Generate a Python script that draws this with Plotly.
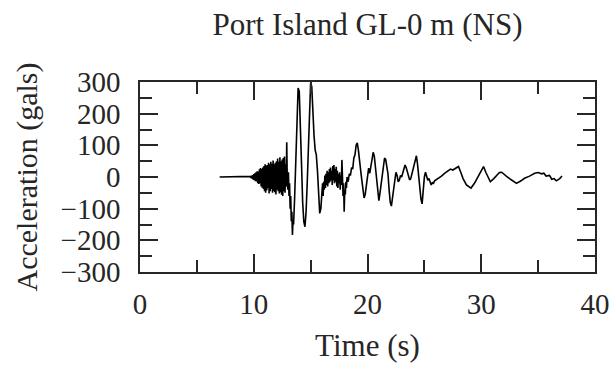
import plotly.graph_objects as go

time_pre = [7.0, 9.6]
accel_pre = [0, 0]

time_onset = [9.70, 9.75, 9.80, 9.85, 9.90, 9.95, 10.00, 10.05, 10.10, 10.15, 10.20, 10.25,
              10.30, 10.35, 10.40, 10.45, 10.50, 10.55, 10.60, 10.65, 10.70, 10.75, 10.80,
              10.85, 10.90, 10.95, 11.00, 11.05, 11.10, 11.15, 11.20, 11.25, 11.30, 11.35,
              11.40, 11.45, 11.50, 11.55, 11.60, 11.65, 11.70, 11.75, 11.80, 11.85, 11.90,
              11.95, 12.00, 12.05, 12.10, 12.15, 12.20, 12.25, 12.30, 12.35, 12.40, 12.45,
              12.50, 12.55, 12.60, 12.65, 12.70, 12.75, 12.80, 12.85, 12.90, 12.95]
accel_onset = [2, -3, 4, -5, 6, -8, 9, -10, 12, -13, 15, -14,
               18, -20, 17, -22, 24, -20, 28, -30, 25, -34, 30,
               -38, 35, -45, 40, -50, 36, -42, 38, -35, 45, -52,
               40, -45, 48, -38, 42, -50, 52, -44, 40, -48, 45,
               -55, 50, -40, 58, -45, 48, -52, 62, -48, 50, -56,
               55, -60, 60, -45, 65, -50, 40, -30, 110, -20]

time_main = [13.0, 13.05, 13.1, 13.15, 13.2, 13.25, 13.3, 13.35, 13.4, 13.45, 13.5, 13.6,
             13.7, 13.8, 13.9, 14.0, 14.1, 14.2, 14.3, 14.4, 14.5, 14.6, 14.7, 14.8, 14.9,
             15.0, 15.1, 15.2, 15.3, 15.4, 15.5, 15.6, 15.7, 15.8, 15.9]
accel_main = [-40, 15, -60, -20, -100, -60, -140, -110, -183, -140, -150, -60,
              60, 200, 281, 270, 180, 40, -80, -140, -157, -110, -20, 110, 240,
              297, 285, 190, 130, 85, 70, 20, -50, -115, -100]

time_coda1 = [16.0, 16.05, 16.1, 16.15, 16.2, 16.25, 16.3, 16.35, 16.4, 16.45, 16.5, 16.55,
              16.6, 16.65, 16.7, 16.75, 16.8, 16.85, 16.9, 16.95, 17.0, 17.05, 17.1, 17.15,
              17.2, 17.25, 17.3, 17.35, 17.4, 17.45, 17.5, 17.55, 17.6, 17.65, 17.7, 17.75,
              17.8, 17.85, 17.9, 17.95, 18.0, 18.05, 18.1, 18.15, 18.2]
accel_coda1 = [-45, -20, -60, -15, -40, 5, -35, 10, -25, 20, -30, 15,
               -20, 25, -15, 30, -10, 20, -25, 35, -10, 38, -20, 25,
               -15, 32, -30, 20, -35, 10, -20, 15, -40, 5, -25, 54,
               0, -60, -20, -110, -40, -55, -15, -35, 0]

time_coda2 = [18.3, 18.4, 18.5, 18.6, 18.7, 18.8, 18.9, 19.0, 19.1, 19.2, 19.3, 19.4, 19.5,
              19.6, 19.7, 19.8, 19.9, 20.0, 20.1, 20.2, 20.3, 20.4, 20.5, 20.6, 20.7, 20.8,
              20.9, 21.0, 21.1, 21.2, 21.3, 21.4, 21.5, 21.6, 21.7, 21.8, 21.9, 22.0, 22.1,
              22.2, 22.3, 22.4, 22.5, 22.6, 22.7, 22.8, 22.9, 23.0, 23.1, 23.2, 23.3, 23.4,
              23.5, 23.6, 23.7, 23.8, 23.9, 24.0, 24.1, 24.2, 24.3, 24.4, 24.5, 24.6, 24.7,
              24.8, 24.9, 25.0, 25.1, 25.2, 25.3, 25.4, 25.5, 25.6, 25.7, 25.8, 25.9]
accel_coda2 = [-15, 10, 5, 30, 25, 60, 70, 100, 108, 85, 60, 20, -10,
               -45, -66, -55, -30, 10, 28, 12, 30, 60, 78, 65, 30, -10,
               -50, -75, -50, -20, 20, 45, 60, 55, 35, 10, -40, -80, -92,
               -60, -30, 0, 15, 5, -15, -10, 5, 0, 15, 30, 38, 30,
               15, 5, -9, -5, 10, 25, 45, 60, 67, 40, 0, -40, -70,
               -85, -40, 0, 15, 5, -10, -5, -20, -25, -18, -20, -12]

time_tail = [26.2, 26.5, 26.8, 27.1, 27.3, 27.5, 27.7, 28.0, 28.2, 28.4, 28.7, 28.9, 29.1,
             29.4, 29.7, 30.0, 30.2, 30.4, 30.6, 30.8, 31.1, 31.4, 31.6, 31.8, 32.0, 32.2,
             32.6, 32.9, 33.1, 33.5, 33.8, 34.2, 34.5, 34.7, 35.0, 35.3, 35.5, 35.7, 36.0,
             36.2, 36.4, 36.6, 36.9, 37.1]
accel_tail = [-5, 3, 12, 20, 25, 22, 26, 33, 15, -5, -25, -30, -35,
              -20, 0, 20, 33, 15, 0, -15, -5, 8, 14, 15, 8, 3,
              -8, -15, -20, -12, -4, 2, 8, 12, 14, 10, 12, 3, 5,
              -7, -5, -12, -5, 3]

time_s = time_pre + time_onset + time_main + time_coda1 + time_coda2 + time_tail
accel_gals = accel_pre + accel_onset + accel_main + accel_coda1 + accel_coda2 + accel_tail

x_range = [0, 40]
y_range = [-300, 300]

FONT = "Liberation Serif"
INK = "#262626"

fig = go.Figure(go.Scatter(x=time_s, y=accel_gals, mode="lines",
                           line=dict(color="black", width=1.6), showlegend=False))

axis_common = dict(showline=True, linecolor=INK, linewidth=1.5, mirror="ticks",
                   ticks="inside", ticklen=18, tickwidth=1.5, tickcolor=INK,
                   showgrid=False, zeroline=False, automargin=False,
                   tickfont=dict(family=FONT, size=29, color=INK))

fig.update_xaxes(range=x_range, dtick=10, tick0=0,
                 minor=dict(dtick=5, ticklen=12, tickwidth=1.5, tickcolor=INK, ticks="inside"),
                 ticklabelstandoff=5,
                 title=dict(text="Time (s)", font=dict(family=FONT, size=31, color=INK), standoff=16),
                 **axis_common)
fig.update_yaxes(range=y_range, dtick=100, tick0=0,
                 minor=dict(dtick=50, ticklen=12, tickwidth=1.5, tickcolor=INK, ticks="inside"),
                 ticklabelstandoff=12,
                 title=dict(text="Acceleration (gals)", font=dict(family=FONT, size=30, color=INK), standoff=14),
                 **axis_common)

fig.update_layout(
    width=616, height=366,
    margin=dict(l=140, r=21, t=82, b=94, autoexpand=False),
    paper_bgcolor="white", plot_bgcolor="white",
    title=dict(text="Port Island GL-0 m (NS)", x=0.5, xref="paper", y=1 - 24 / 366,
               yref="container", yanchor="middle", xanchor="center",
               font=dict(family=FONT, size=31, color=INK)),
)

fig.write_html("out.html")
